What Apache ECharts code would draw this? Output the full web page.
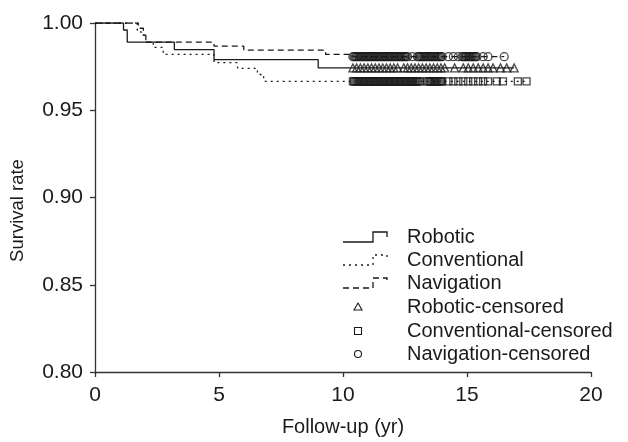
<!DOCTYPE html>
<html>
<head>
<meta charset="utf-8">
<script src="https://cdn.jsdelivr.net/npm/echarts@6/dist/echarts.min.js"></script>
<style>
  html, body { margin: 0; padding: 0; background: #fff; }
  #chart { width: 628px; height: 442px; }
</style>
</head>
<body>
<div id="chart"></div>
<script>
// step curves: [time (yr), survival from that time on]
var robotic = [[0, 1], [1.15, 0.996], [1.3, 0.989], [3.2, 0.9847], [4.8, 0.979], [9.0, 0.9743], [16.9, 0.9743]];
var conventional = [[0, 1], [1.7, 0.996], [1.85, 0.993], [2.05, 0.989], [2.35, 0.986], [2.75, 0.982],
    [4.8, 0.9773], [5.75, 0.974], [6.55, 0.9705], [6.8, 0.9666], [17.4, 0.9666]];
var navigation = [[0, 1], [1.75, 0.997], [1.95, 0.993], [2.05, 0.989], [4.8, 0.9867], [6.0, 0.9844],
    [9.3, 0.982], [10.4, 0.9807], [16.5, 0.9807]];

// censored times
var roboticCensor = [10.4, 10.55, 10.7, 10.85, 11.0, 11.15, 11.3, 11.45, 11.6, 11.75, 11.9, 12.05, 12.2,
    12.45, 12.6, 12.75, 12.9, 13.05, 13.2, 13.35, 13.5, 13.65, 13.8, 13.95, 14.1, 14.5,
    14.85, 15.05, 15.25, 15.45, 15.65, 15.85, 16.05, 16.35, 16.6, 16.9];
var conventionalCensor = [10.4, 10.45, 10.5, 10.55, 10.6, 10.65, 10.7, 10.75, 10.8, 10.85, 10.9, 10.95,
    11.0, 11.05, 11.1, 11.15, 11.2, 11.25, 11.3, 11.35, 11.4, 11.45, 11.5, 11.55, 11.6, 11.65, 11.7, 11.75,
    11.8, 11.85, 11.9, 11.95, 12.0, 12.05, 12.1, 12.15, 12.2, 12.25, 12.3, 12.35, 12.4, 12.45, 12.5, 12.55,
    12.6, 12.65, 12.7, 12.75, 12.8, 12.85, 12.9, 12.95, 13.0, 13.05, 13.1,
    13.4, 13.45, 13.5, 13.55, 13.6, 13.65, 13.7, 13.75, 13.8, 13.85, 13.9, 13.95, 14.0,
    14.25, 14.45, 14.65, 14.85, 15.05, 15.25, 15.45, 15.65, 15.85, 16.2, 16.45, 17.05, 17.4];
var navigationCensor = [10.4, 10.45, 10.5, 10.55, 10.6, 10.65, 10.7, 10.75, 10.8, 10.85, 10.9, 10.95,
    11.0, 11.05, 11.1, 11.15, 11.2, 11.25, 11.3, 11.35, 11.4, 11.45, 11.5, 11.55, 11.6, 11.65, 11.7, 11.75,
    11.8, 11.85, 11.9, 11.95, 12.0, 12.05, 12.1, 12.15, 12.2, 12.25, 12.3, 12.35, 12.4, 12.45, 12.5, 12.55,
    12.6, 12.8, 13.0, 13.05, 13.1, 13.15, 13.2, 13.25, 13.3, 13.35, 13.4, 13.45, 13.5, 13.55, 13.6, 13.65,
    13.7, 13.75, 13.8, 13.85, 13.9, 13.95, 14.0,
    14.25, 14.45, 14.65, 14.8, 14.85, 14.9, 14.95, 15.0, 15.05, 15.1, 15.15, 15.2, 15.25, 15.3, 15.35, 15.4,
    15.65, 15.85, 16.5];

var seriesNames = ['Robotic', 'Conventional', 'Navigation'];
var censorNames = ['Robotic-censored', 'Conventional-censored', 'Navigation-censored'];
var xTicks = [0, 20, 5];        // min, max, interval
var yTicks = [0.8, 1.0, 0.05];

var FONT = '"Liberation Sans", Arial, Helvetica, sans-serif';
var INK = '#1a1a1a';

function lastValue(arr) {
    return arr[arr.length - 1][1];
}
function censorPoints(times, curve) {
    var y = lastValue(curve);
    return times.map(function (t) { return [t, y]; });
}

// legend drawn as graphics (step icons are not a stock legend shape)
function legendGraphics() {
    var g = [];
    var x0 = 343, rowY = [237, 260, 283, 307, 331, 354];
    var dashes = [null, [2, 4], [6, 4]];
    for (var i = 0; i < 3; i++) {
        var y = rowY[i];
        g.push({
            type: 'polyline',
            shape: { points: [[x0, y + 5], [x0 + 30, y + 5], [x0 + 30, y - 5], [x0 + 44, y - 5], [x0 + 44, y]] },
            style: { stroke: INK, lineWidth: 1.3, fill: null, lineDash: dashes[i] }
        });
    }
    var mx = 358;
    g.push({ type: 'polygon', shape: { points: [[mx, rowY[3] - 4], [mx + 4, rowY[3] + 3], [mx - 4, rowY[3] + 3]] },
        style: { stroke: INK, lineWidth: 1.1, fill: null } });
    g.push({ type: 'rect', shape: { x: mx - 3.5, y: rowY[4] - 3.5, width: 7, height: 7 },
        style: { stroke: INK, lineWidth: 1.1, fill: null } });
    g.push({ type: 'circle', shape: { cx: mx, cy: rowY[5], r: 3.5 },
        style: { stroke: INK, lineWidth: 1.1, fill: null } });
    var labels = seriesNames.concat(censorNames);
    for (var j = 0; j < labels.length; j++) {
        g.push({
            type: 'text', x: 407, y: rowY[j],
            style: { text: labels[j], font: '20px ' + FONT, fill: INK, verticalAlign: 'middle', align: 'left' }
        });
    }
    return g;
}

var chart = echarts.init(document.getElementById('chart'), null, { renderer: 'canvas' });

var axisCommon = {
    axisLine: { show: true, lineStyle: { color: '#333', width: 1.3 } },
    axisTick: { show: true, inside: false, length: 5, lineStyle: { color: '#333', width: 1.3 } },
    splitLine: { show: false }
};

var option = {
    backgroundColor: '#fff',
    animation: false,
    grid: { left: 94, right: 37, top: 23, bottom: 67 },
    xAxis: Object.assign({}, axisCommon, {
        type: 'value',
        min: xTicks[0], max: xTicks[1], interval: xTicks[2],
        name: 'Follow-up (yr)', nameLocation: 'middle', nameGap: 45,
        nameTextStyle: { fontFamily: FONT, fontSize: 20, color: INK },
        axisLabel: { fontFamily: FONT, fontSize: 21, color: INK, margin: 13 }
    }),
    yAxis: Object.assign({}, axisCommon, {
        type: 'value',
        min: yTicks[0], max: yTicks[1], interval: yTicks[2],
        name: 'Survival rate', nameLocation: 'middle', nameGap: 68,
        nameTextStyle: { fontFamily: FONT, fontSize: 18.5, color: INK, padding: [0, 26, 0, 0] },
        axisLabel: { fontFamily: FONT, fontSize: 21, color: INK, margin: 12,
            formatter: function (v) { return v.toFixed(2); } }
    }),
    series: [
        { name: seriesNames[0], type: 'line', step: 'end', data: robotic, symbol: 'none',
          lineStyle: { color: INK, width: 1.3, type: 'solid' } },
        { name: seriesNames[1], type: 'line', step: 'end', data: conventional, symbol: 'none',
          lineStyle: { color: INK, width: 1.3, type: [2, 4] } },
        { name: seriesNames[2], type: 'line', step: 'end', data: navigation, symbol: 'none',
          lineStyle: { color: INK, width: 1.3, type: [6, 4] } },
        { name: censorNames[0], type: 'scatter', symbol: 'triangle', symbolSize: 8,
          data: censorPoints(roboticCensor, robotic),
          itemStyle: { color: 'none', borderColor: INK, borderWidth: 1.3 } },
        { name: censorNames[1], type: 'scatter', symbol: 'rect', symbolSize: 7,
          data: censorPoints(conventionalCensor, conventional),
          itemStyle: { color: 'none', borderColor: INK, borderWidth: 1.3 } },
        { name: censorNames[2], type: 'scatter', symbol: 'circle', symbolSize: 8,
          data: censorPoints(navigationCensor, navigation),
          itemStyle: { color: 'none', borderColor: INK, borderWidth: 1.3 } }
    ],
    graphic: legendGraphics()
};

chart.setOption(option);
</script>
</body>
</html>
